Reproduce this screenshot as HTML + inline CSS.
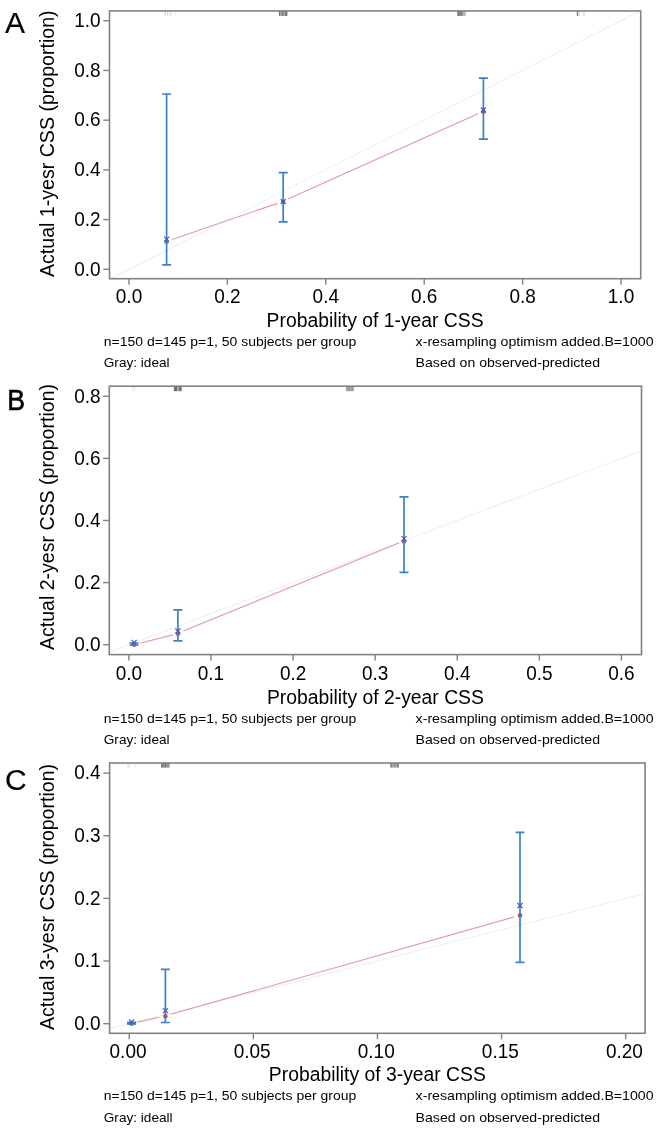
<!DOCTYPE html><html><head><meta charset="utf-8"><style>html,body{margin:0;padding:0;background:#fff;width:656px;height:1130px;overflow:hidden}svg{display:block;will-change:transform}text{font-family:"Liberation Sans",sans-serif;fill:#000}</style></head><body>
<svg width="656" height="1130" viewBox="0 0 656 1130">
<line x1="110.40" y1="278.70" x2="640.30" y2="10.95" stroke="#f1f1f1" stroke-width="1.3"/>
<rect x="164.70" y="10.95" width="1.2" height="5" fill="#d6d6d6"/>
<rect x="166.90" y="10.95" width="1.2" height="5" fill="#dedede"/>
<rect x="169.80" y="10.95" width="1.2" height="5" fill="#dadada"/>
<rect x="172.00" y="10.95" width="1" height="5" fill="#f4f4f4"/>
<rect x="175.00" y="10.95" width="1" height="5" fill="#f0f0f0"/>
<rect x="278.90" y="10.95" width="1.4" height="5" fill="#747474"/>
<rect x="280.30" y="10.95" width="1.3" height="5" fill="#9a9a9a"/>
<rect x="281.60" y="10.95" width="2.0" height="5" fill="#747474"/>
<rect x="283.60" y="10.95" width="0.9" height="5" fill="#9a9a9a"/>
<rect x="284.50" y="10.95" width="2.6" height="5" fill="#787878"/>
<rect x="287.00" y="10.95" width="0.6" height="5" fill="#b0b0b0"/>
<rect x="457.10" y="10.95" width="5.8" height="5" fill="#858585"/>
<rect x="462.80" y="10.95" width="3" height="5" fill="#b8b8b8"/>
<rect x="576.70" y="10.95" width="1.4" height="5" fill="#8a8a8a"/>
<rect x="578.30" y="10.95" width="1.2" height="5" fill="#c8c8c8"/>
<rect x="582.60" y="10.95" width="2.4" height="5" fill="#e6e6e6"/>
<line x1="172" y1="239.5" x2="277.5" y2="203.4" stroke="#e39a9c" stroke-width="1.15"/>
<line x1="288" y1="199" x2="478" y2="113.8" stroke="#e39a9c" stroke-width="1.15"/>
<circle cx="166.6" cy="241.7" r="2.3" fill="#c8504a"/>
<circle cx="283.2" cy="201.8" r="2.3" fill="#c8504a"/>
<circle cx="483.4" cy="111.7" r="2.3" fill="#c8504a"/>
<path d="M162.1,94H171.1M166.6,94V264.8M162.1,264.8H171.1" stroke="#3a82c6" stroke-width="1.7" fill="none"/>
<path d="M278.7,172.7H287.7M283.2,172.7V221.8M278.7,221.8H287.7" stroke="#3a82c6" stroke-width="1.7" fill="none"/>
<path d="M478.9,78.2H487.9M483.4,78.2V139.2M478.9,139.2H487.9" stroke="#3a82c6" stroke-width="1.7" fill="none"/>
<path d="M164.1,236.7L169.1,241.7M164.1,241.7L169.1,236.7" stroke="#4555c4" stroke-width="1.15"/>
<path d="M280.7,199.2L285.7,204.2M280.7,204.2L285.7,199.2" stroke="#4555c4" stroke-width="1.15"/>
<path d="M480.9,107.5L485.9,112.5M480.9,112.5L485.9,107.5" stroke="#4555c4" stroke-width="1.15"/>
<rect x="109.5" y="10.95" width="531.20" height="267.75" fill="none" stroke="#828282" stroke-width="1.6"/>
<line x1="103.3" y1="269.30" x2="109.5" y2="269.30" stroke="#828282" stroke-width="1.4"/>
<text x="100.6" y="275.60" font-size="19.8" text-anchor="end" textLength="26.41" lengthAdjust="spacingAndGlyphs">0.0</text>
<line x1="103.3" y1="219.58" x2="109.5" y2="219.58" stroke="#828282" stroke-width="1.4"/>
<text x="100.6" y="225.88" font-size="19.8" text-anchor="end" textLength="26.41" lengthAdjust="spacingAndGlyphs">0.2</text>
<line x1="103.3" y1="169.86" x2="109.5" y2="169.86" stroke="#828282" stroke-width="1.4"/>
<text x="100.6" y="176.16" font-size="19.8" text-anchor="end" textLength="26.41" lengthAdjust="spacingAndGlyphs">0.4</text>
<line x1="103.3" y1="120.14" x2="109.5" y2="120.14" stroke="#828282" stroke-width="1.4"/>
<text x="100.6" y="126.44" font-size="19.8" text-anchor="end" textLength="26.41" lengthAdjust="spacingAndGlyphs">0.6</text>
<line x1="103.3" y1="70.42" x2="109.5" y2="70.42" stroke="#828282" stroke-width="1.4"/>
<text x="100.6" y="76.72" font-size="19.8" text-anchor="end" textLength="26.41" lengthAdjust="spacingAndGlyphs">0.8</text>
<line x1="103.3" y1="20.70" x2="109.5" y2="20.70" stroke="#828282" stroke-width="1.4"/>
<text x="100.6" y="27.00" font-size="19.8" text-anchor="end" textLength="26.41" lengthAdjust="spacingAndGlyphs">1.0</text>
<line x1="129.00" y1="278.7" x2="129.00" y2="284.7" stroke="#828282" stroke-width="1.4"/>
<text x="129.00" y="302.80" font-size="19.8" text-anchor="middle" textLength="26.41" lengthAdjust="spacingAndGlyphs">0.0</text>
<line x1="227.40" y1="278.7" x2="227.40" y2="284.7" stroke="#828282" stroke-width="1.4"/>
<text x="227.40" y="302.80" font-size="19.8" text-anchor="middle" textLength="26.41" lengthAdjust="spacingAndGlyphs">0.2</text>
<line x1="325.80" y1="278.7" x2="325.80" y2="284.7" stroke="#828282" stroke-width="1.4"/>
<text x="325.80" y="302.80" font-size="19.8" text-anchor="middle" textLength="26.41" lengthAdjust="spacingAndGlyphs">0.4</text>
<line x1="424.20" y1="278.7" x2="424.20" y2="284.7" stroke="#828282" stroke-width="1.4"/>
<text x="424.20" y="302.80" font-size="19.8" text-anchor="middle" textLength="26.41" lengthAdjust="spacingAndGlyphs">0.6</text>
<line x1="522.60" y1="278.7" x2="522.60" y2="284.7" stroke="#828282" stroke-width="1.4"/>
<text x="522.60" y="302.80" font-size="19.8" text-anchor="middle" textLength="26.41" lengthAdjust="spacingAndGlyphs">0.8</text>
<line x1="621.00" y1="278.7" x2="621.00" y2="284.7" stroke="#828282" stroke-width="1.4"/>
<text x="621.00" y="302.80" font-size="19.8" text-anchor="middle" textLength="26.41" lengthAdjust="spacingAndGlyphs">1.0</text>
<text x="375.10" y="326.8" font-size="19.4" text-anchor="middle" textLength="217" lengthAdjust="spacingAndGlyphs">Probability of 1-year CSS</text>
<text transform="translate(54,143.70) rotate(-90)" x="0" y="0" font-size="19.4" text-anchor="middle" textLength="266.6" lengthAdjust="spacingAndGlyphs">Actual 1-yesr CSS (proportion)</text>
<text x="103.8" y="346.0" font-size="13.6" textLength="252.5" lengthAdjust="spacingAndGlyphs">n=150 d=145 p=1, 50 subjects per group</text>
<text x="103.8" y="367.0" font-size="13.6">Gray: ideal</text>
<text x="415.6" y="346.0" font-size="13.6" textLength="238" lengthAdjust="spacingAndGlyphs">x-resampling optimism added.B=1000</text>
<text x="415.6" y="367.0" font-size="13.6" textLength="184.4" lengthAdjust="spacingAndGlyphs">Based on observed-predicted</text>
<text transform="translate(5.0,33) scale(1.0,1)" x="0" y="0" font-size="30" stroke="#000" stroke-width="0.15">A</text>
<line x1="109.30" y1="652.12" x2="641.50" y2="450.75" stroke="#f1f1f1" stroke-width="1.3"/>
<rect x="132.00" y="386.2" width="1.6" height="5" fill="#ececec"/>
<rect x="134.50" y="386.2" width="1.4" height="5" fill="#f2f2f2"/>
<rect x="173.90" y="386.2" width="3.2" height="5" fill="#6e6e6e"/>
<rect x="177.10" y="386.2" width="1.9" height="5" fill="#a8a8a8"/>
<rect x="179.00" y="386.2" width="2.7" height="5" fill="#767676"/>
<rect x="346.05" y="386.2" width="4.1" height="5" fill="#9c9c9c"/>
<rect x="350.00" y="386.2" width="0.4" height="5" fill="#c4c4c4"/>
<rect x="350.30" y="386.2" width="3.5" height="5" fill="#a0a0a0"/>
<line x1="140" y1="643.2" x2="172.8" y2="634.9" stroke="#e39a9c" stroke-width="1.15"/>
<line x1="183.3" y1="631" x2="398.9" y2="543" stroke="#e39a9c" stroke-width="1.15"/>
<circle cx="134.1" cy="644.8" r="2.3" fill="#c8504a"/>
<circle cx="177.9" cy="633.8" r="2.3" fill="#c8504a"/>
<circle cx="404.0" cy="541.5" r="2.3" fill="#c8504a"/>
<path d="M129.6,643H138.6M134.1,643V645M129.6,645H138.6" stroke="#3a82c6" stroke-width="1.7" fill="none"/>
<path d="M173.4,609.9H182.4M177.9,609.9V640.9M173.4,640.9H182.4" stroke="#3a82c6" stroke-width="1.7" fill="none"/>
<path d="M399.5,496.8H408.5M404.0,496.8V572.4M399.5,572.4H408.5" stroke="#3a82c6" stroke-width="1.7" fill="none"/>
<path d="M131.6,639.8L136.6,644.8M131.6,644.8L136.6,639.8" stroke="#4555c4" stroke-width="1.15"/>
<path d="M175.4,628.5L180.4,633.5M175.4,633.5L180.4,628.5" stroke="#4555c4" stroke-width="1.15"/>
<path d="M401.5,536.2L406.5,541.2M401.5,541.2L406.5,536.2" stroke="#4555c4" stroke-width="1.15"/>
<rect x="109.3" y="386.2" width="532.20" height="268.40" fill="none" stroke="#828282" stroke-width="1.6"/>
<line x1="103.1" y1="644.70" x2="109.3" y2="644.70" stroke="#828282" stroke-width="1.4"/>
<text x="100.6" y="651.00" font-size="19.8" text-anchor="end" textLength="26.41" lengthAdjust="spacingAndGlyphs">0.0</text>
<line x1="103.1" y1="582.58" x2="109.3" y2="582.58" stroke="#828282" stroke-width="1.4"/>
<text x="100.6" y="588.88" font-size="19.8" text-anchor="end" textLength="26.41" lengthAdjust="spacingAndGlyphs">0.2</text>
<line x1="103.1" y1="520.46" x2="109.3" y2="520.46" stroke="#828282" stroke-width="1.4"/>
<text x="100.6" y="526.76" font-size="19.8" text-anchor="end" textLength="26.41" lengthAdjust="spacingAndGlyphs">0.4</text>
<line x1="103.1" y1="458.34" x2="109.3" y2="458.34" stroke="#828282" stroke-width="1.4"/>
<text x="100.6" y="464.64" font-size="19.8" text-anchor="end" textLength="26.41" lengthAdjust="spacingAndGlyphs">0.6</text>
<line x1="103.1" y1="396.22" x2="109.3" y2="396.22" stroke="#828282" stroke-width="1.4"/>
<text x="100.6" y="402.52" font-size="19.8" text-anchor="end" textLength="26.41" lengthAdjust="spacingAndGlyphs">0.8</text>
<line x1="128.90" y1="654.6" x2="128.90" y2="660.6" stroke="#828282" stroke-width="1.4"/>
<text x="128.90" y="679.90" font-size="19.8" text-anchor="middle" textLength="26.41" lengthAdjust="spacingAndGlyphs">0.0</text>
<line x1="210.99" y1="654.6" x2="210.99" y2="660.6" stroke="#828282" stroke-width="1.4"/>
<text x="210.99" y="679.90" font-size="19.8" text-anchor="middle" textLength="26.41" lengthAdjust="spacingAndGlyphs">0.1</text>
<line x1="293.08" y1="654.6" x2="293.08" y2="660.6" stroke="#828282" stroke-width="1.4"/>
<text x="293.08" y="679.90" font-size="19.8" text-anchor="middle" textLength="26.41" lengthAdjust="spacingAndGlyphs">0.2</text>
<line x1="375.17" y1="654.6" x2="375.17" y2="660.6" stroke="#828282" stroke-width="1.4"/>
<text x="375.17" y="679.90" font-size="19.8" text-anchor="middle" textLength="26.41" lengthAdjust="spacingAndGlyphs">0.3</text>
<line x1="457.26" y1="654.6" x2="457.26" y2="660.6" stroke="#828282" stroke-width="1.4"/>
<text x="457.26" y="679.90" font-size="19.8" text-anchor="middle" textLength="26.41" lengthAdjust="spacingAndGlyphs">0.4</text>
<line x1="539.35" y1="654.6" x2="539.35" y2="660.6" stroke="#828282" stroke-width="1.4"/>
<text x="539.35" y="679.90" font-size="19.8" text-anchor="middle" textLength="26.41" lengthAdjust="spacingAndGlyphs">0.5</text>
<line x1="621.44" y1="654.6" x2="621.44" y2="660.6" stroke="#828282" stroke-width="1.4"/>
<text x="621.44" y="679.90" font-size="19.8" text-anchor="middle" textLength="26.41" lengthAdjust="spacingAndGlyphs">0.6</text>
<text x="375.40" y="703.6" font-size="19.4" text-anchor="middle" textLength="217" lengthAdjust="spacingAndGlyphs">Probability of 2-year CSS</text>
<text transform="translate(54,517.00) rotate(-90)" x="0" y="0" font-size="19.4" text-anchor="middle" textLength="266.0" lengthAdjust="spacingAndGlyphs">Actual 2-yesr CSS (proportion)</text>
<text x="103.8" y="723.3000000000001" font-size="13.6" textLength="252.5" lengthAdjust="spacingAndGlyphs">n=150 d=145 p=1, 50 subjects per group</text>
<text x="103.8" y="744.3000000000001" font-size="13.6">Gray: ideal</text>
<text x="415.6" y="723.3000000000001" font-size="13.6" textLength="238" lengthAdjust="spacingAndGlyphs">x-resampling optimism added.B=1000</text>
<text x="415.6" y="744.3000000000001" font-size="13.6" textLength="184.4" lengthAdjust="spacingAndGlyphs">Based on observed-predicted</text>
<text transform="translate(7.2,410.0) scale(0.89,1)" x="0" y="0" font-size="30" stroke="#000" stroke-width="0.6">B</text>
<line x1="109.60" y1="1028.66" x2="645.10" y2="893.49" stroke="#f1f1f1" stroke-width="1.3"/>
<rect x="127.20" y="763" width="2.4" height="4.6" fill="#e4e4e4"/>
<rect x="134.60" y="763" width="1.8" height="4.6" fill="#ececec"/>
<rect x="161.00" y="763" width="2.0" height="4.6" fill="#7a7a7a"/>
<rect x="162.90" y="763" width="1.4" height="4.6" fill="#8c8c8c"/>
<rect x="164.40" y="763" width="2.0" height="4.6" fill="#6e6e6e"/>
<rect x="166.15" y="763" width="3.5" height="4.6" fill="#959595"/>
<rect x="390.20" y="763" width="2.0" height="4.6" fill="#888888"/>
<rect x="392.20" y="763" width="4.4" height="4.6" fill="#a0a0a0"/>
<rect x="396.60" y="763" width="2.4" height="4.6" fill="#8a8a8a"/>
<line x1="137.3" y1="1022.1" x2="159.4" y2="1017.2" stroke="#e39a9c" stroke-width="1.15"/>
<line x1="170.9" y1="1014.3" x2="514.3" y2="916.9" stroke="#e39a9c" stroke-width="1.15"/>
<circle cx="131.6" cy="1023.6" r="2.3" fill="#c8504a"/>
<circle cx="165.4" cy="1016.3" r="2.3" fill="#c8504a"/>
<circle cx="520" cy="915.4" r="2.3" fill="#c8504a"/>
<path d="M127.1,1022.3H136.1M131.6,1022.3V1023.9M127.1,1023.9H136.1" stroke="#3a82c6" stroke-width="1.7" fill="none"/>
<path d="M160.9,969.4H169.9M165.4,969.4V1022.5M160.9,1022.5H169.9" stroke="#3a82c6" stroke-width="1.7" fill="none"/>
<path d="M515.5,832.4H524.5M520,832.4V962.4M515.5,962.4H524.5" stroke="#3a82c6" stroke-width="1.7" fill="none"/>
<path d="M129.1,1019.4L134.1,1024.4M129.1,1024.4L134.1,1019.4" stroke="#4555c4" stroke-width="1.15"/>
<path d="M162.9,1008.2L167.9,1013.2M162.9,1013.2L167.9,1008.2" stroke="#4555c4" stroke-width="1.15"/>
<path d="M517.5,903.0L522.5,908.0M517.5,908.0L522.5,903.0" stroke="#4555c4" stroke-width="1.15"/>
<rect x="109.6" y="763" width="535.50" height="270.30" fill="none" stroke="#828282" stroke-width="1.6"/>
<line x1="103.39999999999999" y1="1023.70" x2="109.6" y2="1023.70" stroke="#828282" stroke-width="1.4"/>
<text x="100.6" y="1030.00" font-size="19.8" text-anchor="end" textLength="26.41" lengthAdjust="spacingAndGlyphs">0.0</text>
<line x1="103.39999999999999" y1="961.05" x2="109.6" y2="961.05" stroke="#828282" stroke-width="1.4"/>
<text x="100.6" y="967.35" font-size="19.8" text-anchor="end" textLength="26.41" lengthAdjust="spacingAndGlyphs">0.1</text>
<line x1="103.39999999999999" y1="898.40" x2="109.6" y2="898.40" stroke="#828282" stroke-width="1.4"/>
<text x="100.6" y="904.70" font-size="19.8" text-anchor="end" textLength="26.41" lengthAdjust="spacingAndGlyphs">0.2</text>
<line x1="103.39999999999999" y1="835.75" x2="109.6" y2="835.75" stroke="#828282" stroke-width="1.4"/>
<text x="100.6" y="842.05" font-size="19.8" text-anchor="end" textLength="26.41" lengthAdjust="spacingAndGlyphs">0.3</text>
<line x1="103.39999999999999" y1="773.10" x2="109.6" y2="773.10" stroke="#828282" stroke-width="1.4"/>
<text x="100.6" y="779.40" font-size="19.8" text-anchor="end" textLength="26.41" lengthAdjust="spacingAndGlyphs">0.4</text>
<line x1="129.25" y1="1033.3" x2="129.25" y2="1039.3" stroke="#828282" stroke-width="1.4"/>
<text x="128.05" y="1057.90" font-size="19.8" text-anchor="middle" textLength="36.97" lengthAdjust="spacingAndGlyphs">0.00</text>
<line x1="253.35" y1="1033.3" x2="253.35" y2="1039.3" stroke="#828282" stroke-width="1.4"/>
<text x="252.15" y="1057.90" font-size="19.8" text-anchor="middle" textLength="36.97" lengthAdjust="spacingAndGlyphs">0.05</text>
<line x1="377.45" y1="1033.3" x2="377.45" y2="1039.3" stroke="#828282" stroke-width="1.4"/>
<text x="376.25" y="1057.90" font-size="19.8" text-anchor="middle" textLength="36.97" lengthAdjust="spacingAndGlyphs">0.10</text>
<line x1="501.55" y1="1033.3" x2="501.55" y2="1039.3" stroke="#828282" stroke-width="1.4"/>
<text x="500.35" y="1057.90" font-size="19.8" text-anchor="middle" textLength="36.97" lengthAdjust="spacingAndGlyphs">0.15</text>
<line x1="625.65" y1="1033.3" x2="625.65" y2="1039.3" stroke="#828282" stroke-width="1.4"/>
<text x="624.45" y="1057.90" font-size="19.8" text-anchor="middle" textLength="36.97" lengthAdjust="spacingAndGlyphs">0.20</text>
<text x="377.35" y="1080.8" font-size="19.4" text-anchor="middle" textLength="217" lengthAdjust="spacingAndGlyphs">Probability of 3-year CSS</text>
<text transform="translate(54,897.00) rotate(-90)" x="0" y="0" font-size="19.4" text-anchor="middle" textLength="266.0" lengthAdjust="spacingAndGlyphs">Actual 3-yesr CSS (proportion)</text>
<text x="103.8" y="1100.3999999999999" font-size="13.6" textLength="252.5" lengthAdjust="spacingAndGlyphs">n=150 d=145 p=1, 50 subjects per group</text>
<text x="103.8" y="1122.1" font-size="13.6">Gray: ideall</text>
<text x="415.6" y="1100.3999999999999" font-size="13.6" textLength="238" lengthAdjust="spacingAndGlyphs">x-resampling optimism added.B=1000</text>
<text x="415.6" y="1122.1" font-size="13.6" textLength="184.4" lengthAdjust="spacingAndGlyphs">Based on observed-predicted</text>
<text transform="translate(5.0,790) scale(1.0,1)" x="0" y="0" font-size="30" stroke="#000" stroke-width="0.2">C</text>
</svg></body></html>
